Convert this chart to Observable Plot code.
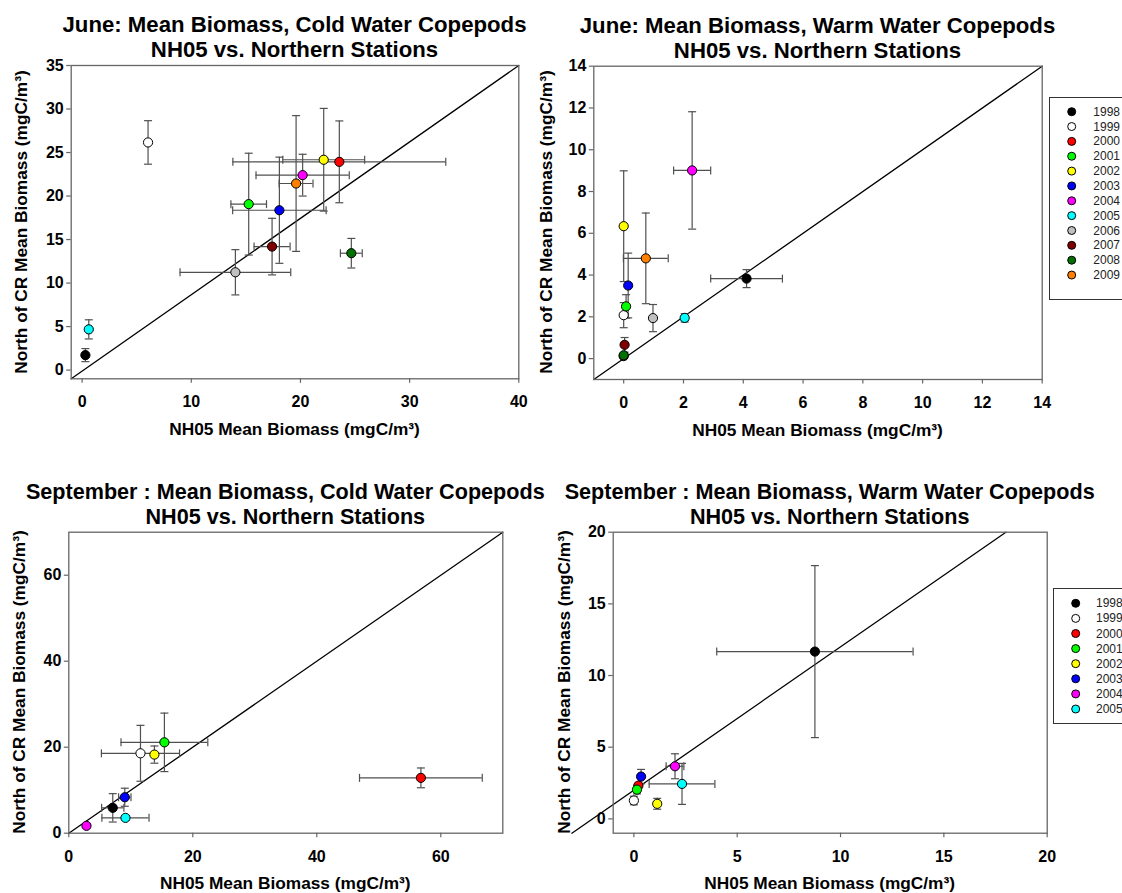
<!DOCTYPE html>
<html>
<head>
<meta charset="utf-8">
<script src="https://cdn.jsdelivr.net/npm/d3@7"></script>
<script src="https://cdn.jsdelivr.net/npm/@observablehq/plot@0.6"></script>
<style>
html, body { margin: 0; padding: 0; background: #fff; width: 1122px; height: 893px; overflow: hidden; }
#root { position: relative; width: 1122px; height: 893px; font-family: "Liberation Sans", Arial, Helvetica, sans-serif; color: #000; }
.lbl { position: absolute; white-space: nowrap; line-height: 1; font-weight: bold; transform: translate(-50%, -50%); }
.legend { position: absolute; border: 1px solid #333; background: #fff; box-sizing: border-box; }
.legtxt { position: absolute; font-size: 12px; line-height: 1; color: #222; transform: translateY(-50%); white-space: nowrap; }
</style>
</head>
<body>
<div id="root"></div>
<script>
// ---------- shared categories ----------
const years = [1998, 1999, 2000, 2001, 2002, 2003, 2004, 2005, 2006, 2007, 2008, 2009];
const yearColors = ["#000000", "#ffffff", "#ff0000", "#00ff00", "#ffff00", "#0000ff",
                    "#ff00ff", "#00ffff", "#c0c0c0", "#800000", "#007000", "#ff8000"];

// ---------- June, cold water copepods ----------
const juneColdYears = [1998, 1999, 2000, 2001, 2002, 2003, 2004, 2005, 2006, 2007, 2008, 2009];
const juneColdX     = [0.30, 6.04, 23.56, 15.26, 22.13, 18.07, 20.20, 0.61, 14.04, 17.40, 24.66, 19.60];
const juneColdY     = [1.72, 26.16, 23.93, 19.07, 24.17, 18.37, 22.40, 4.68, 11.24, 14.19, 13.43, 21.44];
const juneColdXErr  = [0.20, 0, 9.75, 1.63, 3.75, 4.28, 4.27, 0.20, 5.07, 1.65, 1.00, 1.55];
const juneColdYErr  = [0.75, 2.50, 4.70, 5.85, 5.90, 6.10, 2.40, 1.10, 2.60, 3.25, 1.70, 7.80];
const juneColdRefX  = [-1, 40];
const juneColdRefY  = [-1, 35];
const juneColdXTicks = [0, 10, 20, 30, 40];
const juneColdYTicks = [0, 5, 10, 15, 20, 25, 30, 35];

// ---------- June, warm water copepods ----------
const juneWarmYears = [1998, 1999, 2000, 2001, 2002, 2003, 2004, 2005, 2006, 2007, 2008, 2009];
const juneWarmX     = [4.11, 0.00, 0.00, 0.08, 0.00, 0.15, 2.29, 2.04, 0.98, 0.03, 0.00, 0.74];
const juneWarmY     = [3.83, 2.08, 0.12, 2.50, 6.34, 3.50, 9.01, 1.95, 1.94, 0.66, 0.16, 4.80];
const juneWarmXErr  = [1.20, 0, 0, 0, 0, 0, 0.62, 0.08, 0, 0, 0, 0.75];
const juneWarmYErr  = [0.43, 0.60, 0.10, 0.56, 2.65, 1.55, 2.81, 0.20, 0.65, 0.35, 0.10, 2.17];
const juneWarmRefX  = [-1, 14];
const juneWarmRefY  = [-1, 14];
const juneWarmXTicks = [0, 2, 4, 6, 8, 10, 12, 14];
const juneWarmYTicks = [0, 2, 4, 6, 8, 10, 12, 14];

// ---------- September, cold water copepods ----------
const sepColdYears = [1998, 1999, 2000, 2001, 2002, 2003, 2004, 2005];
const sepColdX     = [7.09, 11.56, 56.79, 15.42, 13.81, 9.03, 2.85, 9.14];
const sepColdY     = [5.90, 18.58, 12.87, 21.13, 18.28, 8.36, 1.71, 3.57];
const sepColdXErr  = [1.80, 6.30, 9.90, 7.00, 0, 1.00, 0.30, 3.80];
const sepColdYErr  = [3.30, 6.50, 2.30, 6.80, 2.00, 2.10, 0.40, 0.50];
const sepColdRefX  = [0, 70];
const sepColdRefY  = [0, 70];
const sepColdXTicks = [0, 20, 40, 60];
const sepColdYTicks = [0, 20, 40, 60];

// ---------- September, warm water copepods ----------
const sepWarmYears = [1998, 1999, 2000, 2001, 2002, 2003, 2004, 2005];
const sepWarmX     = [8.76, 0.00, 0.22, 0.15, 1.13, 0.35, 1.99, 2.33];
const sepWarmY     = [11.67, 1.28, 2.32, 2.04, 1.05, 2.95, 3.67, 2.44];
const sepWarmXErr  = [4.75, 0, 0, 0, 0, 0.10, 0.43, 1.59];
const sepWarmYErr  = [6.00, 0.30, 0.15, 0.30, 0.38, 0.50, 0.87, 1.43];
const sepWarmRefX  = [-3, 18];
const sepWarmRefY  = [-1, 20];
const sepWarmXTicks = [0, 5, 10, 15, 20];
const sepWarmYTicks = [0, 5, 10, 15, 20];

// ---------- texts ----------
const titleLine2 = "NH05 vs. Northern Stations";
const titlesLine1 = [
  "June: Mean Biomass, Cold Water Copepods",
  "June: Mean Biomass, Warm Water Copepods",
  "September : Mean Biomass, Cold Water Copepods",
  "September : Mean Biomass, Warm Water Copepods"
];
const xLabel = "NH05 Mean Biomass (mgC/m\u00B3)";
const yLabel = "North of CR Mean Biomass (mgC/m\u00B3)";

// ---------- helpers ----------
const root = document.getElementById("root");
const FONT = '"Liberation Sans", Arial, Helvetica, sans-serif';
const ERR = "#505050";

const hCap = {draw(ctx, size) { const w = Math.sqrt(size / Math.PI); ctx.moveTo(-w, 0); ctx.lineTo(w, 0); }};
const vCap = {draw(ctx, size) { const w = Math.sqrt(size / Math.PI); ctx.moveTo(0, -w); ctx.lineTo(0, w); }};

function rowsOf(ys, xs, yv, xe, ye) {
  return ys.map((yr, i) => ({year: yr, x: xs[i], y: yv[i], xe: xe[i], ye: ye[i]}));
}

function addLbl(host, txt, x, y, size) {
  const d = document.createElement("div");
  d.className = "lbl";
  d.textContent = txt;
  d.style.left = x + "px";
  d.style.top = y + "px";
  d.style.fontSize = size + "px";
  host.appendChild(d);
  return d;
}

function panel(cfg) {
  const rows = rowsOf(cfg.years, cfg.x, cfg.y, cfg.xErr, cfg.yErr);
  const vb = rows.filter(d => d.ye > 0);
  const hb = rows.filter(d => d.xe > 0);
  const ref = cfg.refX.map((v, i) => ({x: v, y: cfg.refY[i]}));
  const svg = Plot.plot({
    width: cfg.w, height: cfg.h,
    marginLeft: cfg.L - cfg.left, marginRight: cfg.left + cfg.w - cfg.R,
    marginTop: cfg.T - cfg.top, marginBottom: cfg.top + cfg.h - cfg.B,
    style: {background: "transparent", fontFamily: FONT, fontSize: "16px", fontWeight: "bold", color: "#000", overflow: "visible"},
    x: {domain: cfg.xDomain},
    y: {domain: cfg.yDomain},
    color: {type: "ordinal", domain: years, range: yearColors},
    marks: [
      Plot.axisX(cfg.xTicks, {tickSize: 4.5, tickPadding: 12.5, stroke: "#666", strokeWidth: 1.2, fill: "#000", label: null, fontSize: 16, fontWeight: "bold"}),
      Plot.axisY(cfg.yTicks, {tickSize: 4.5, tickPadding: 3, stroke: "#666", strokeWidth: 1.2, fill: "#000", label: null, fontSize: 16, fontWeight: "bold"}),
      Plot.line(ref, {x: "x", y: "y", stroke: "#000", strokeWidth: 1.3}),
      Plot.ruleX(vb, {x: "x", y1: d => d.y - d.ye, y2: d => d.y + d.ye, stroke: ERR, strokeWidth: 1.2}),
      Plot.ruleY(hb, {y: "y", x1: d => d.x - d.xe, x2: d => d.x + d.xe, stroke: ERR, strokeWidth: 1.2}),
      Plot.dot(vb, {x: "x", y: d => d.y + d.ye, symbol: hCap, r: 4, fill: "none", stroke: ERR, strokeWidth: 1.2}),
      Plot.dot(vb, {x: "x", y: d => d.y - d.ye, symbol: hCap, r: 4, fill: "none", stroke: ERR, strokeWidth: 1.2}),
      Plot.dot(hb, {x: d => d.x + d.xe, y: "y", symbol: vCap, r: 4, fill: "none", stroke: ERR, strokeWidth: 1.2}),
      Plot.dot(hb, {x: d => d.x - d.xe, y: "y", symbol: vCap, r: 4, fill: "none", stroke: ERR, strokeWidth: 1.2}),
      Plot.dot(rows, {x: "x", y: "y", r: 4.6, fill: "year", stroke: "#000", strokeWidth: 1}),
      Plot.frame({stroke: "#666", strokeWidth: 1.3})
    ]
  });
  svg.style.position = "absolute";
  svg.style.left = cfg.left + "px";
  svg.style.top = cfg.top + "px";
  root.appendChild(svg);

  const cx = (cfg.L + cfg.R) / 2, cy = (cfg.T + cfg.B) / 2;
  addLbl(root, cfg.title1, cx, cfg.T - 40, cfg.tSize);
  addLbl(root, titleLine2, cx, cfg.T - 15, cfg.tSize);
  addLbl(root, xLabel, cx, cfg.B + 51.5, 17.3);
  const yl = addLbl(root, yLabel, cfg.L - cfg.yOff, cy, 17.3);
  yl.style.transform = "translate(-50%, -50%) rotate(-90deg)";
}

function legend(list, box, symX, txtX, y0, dy) {
  const b = document.createElement("div");
  b.className = "legend";
  b.style.left = box.left + "px"; b.style.top = box.top + "px";
  b.style.width = box.width + "px"; b.style.height = box.height + "px";
  root.appendChild(b);
  const ns = "http://www.w3.org/2000/svg";
  const s = document.createElementNS(ns, "svg");
  s.setAttribute("width", 1122); s.setAttribute("height", 893);
  s.style.position = "absolute"; s.style.left = "0px"; s.style.top = "0px"; s.style.pointerEvents = "none";
  list.forEach((yr, i) => {
    const c = document.createElementNS(ns, "circle");
    c.setAttribute("cx", symX); c.setAttribute("cy", y0 + i * dy); c.setAttribute("r", 4);
    c.setAttribute("fill", yearColors[years.indexOf(yr)]);
    c.setAttribute("stroke", "#000"); c.setAttribute("stroke-width", 1);
    s.appendChild(c);
    const t = document.createElement("div");
    t.className = "legtxt";
    t.textContent = String(yr);
    t.style.left = txtX + "px"; t.style.top = (y0 + i * dy) + "px";
    root.appendChild(t);
  });
  root.appendChild(s);
}

// ---------- panels ----------
panel({years: juneColdYears, x: juneColdX, y: juneColdY, xErr: juneColdXErr, yErr: juneColdYErr,
  refX: juneColdRefX, refY: juneColdRefY, xTicks: juneColdXTicks, yTicks: juneColdYTicks,
  xDomain: [-1, 40], yDomain: [-1, 35], left: 0, top: 0, w: 540, h: 445,
  L: 70.7, R: 518.3, T: 65, B: 378.3, title1: titlesLine1[0], tSize: 22.2, yOff: 48.5});

panel({years: juneWarmYears, x: juneWarmX, y: juneWarmY, xErr: juneWarmXErr, yErr: juneWarmYErr,
  refX: juneWarmRefX, refY: juneWarmRefY, xTicks: juneWarmXTicks, yTicks: juneWarmYTicks,
  xDomain: [-1, 14], yDomain: [-1, 14], left: 540, top: 0, w: 560, h: 445,
  L: 593.3, R: 1041.7, T: 65.7, B: 379, title1: titlesLine1[1], tSize: 22.2, yOff: 46.5});

panel({years: sepColdYears, x: sepColdX, y: sepColdY, xErr: sepColdXErr, yErr: sepColdYErr,
  refX: sepColdRefX, refY: sepColdRefY, xTicks: sepColdXTicks, yTicks: sepColdYTicks,
  xDomain: [0, 70], yDomain: [0, 70], left: 0, top: 450, w: 540, h: 443,
  L: 68.3, R: 502.3, T: 531.7, B: 832.7, title1: titlesLine1[2], tSize: 21.6, yOff: 48});

panel({years: sepWarmYears, x: sepWarmX, y: sepWarmY, xErr: sepWarmXErr, yErr: sepWarmYErr,
  refX: sepWarmRefX, refY: sepWarmRefY, xTicks: sepWarmXTicks, yTicks: sepWarmYTicks,
  xDomain: [-1, 20], yDomain: [-1, 20], left: 560, top: 450, w: 540, h: 443,
  L: 612.7, R: 1046.7, T: 531.7, B: 832.7, title1: titlesLine1[3], tSize: 21.6, yOff: 48});

// ---------- legends ----------
legend(juneWarmYears, {left: 1049, top: 96.7, width: 110, height: 203.3}, 1071.7, 1093.3, 111.7, 14.85);
legend(sepWarmYears, {left: 1053.3, top: 588.3, width: 110, height: 136}, 1075.7, 1096, 603.3, 15.1);
</script>
</body>
</html>
